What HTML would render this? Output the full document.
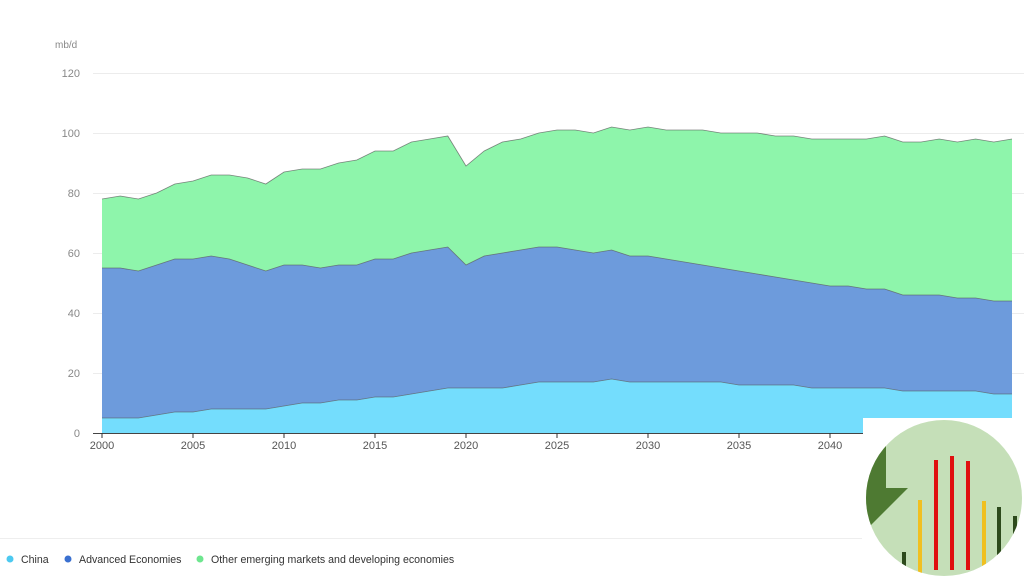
<!DOCTYPE html>
<html><head><meta charset="utf-8"><style>
html,body{margin:0;padding:0;background:#fff;width:1024px;height:578px;overflow:hidden}
svg{display:block;font-family:"Liberation Sans",sans-serif}
</style></head><body>
<svg id="s" width="1024" height="578" xmlns="http://www.w3.org/2000/svg">
<g stroke="#ececec" stroke-width="1">
<line x1="93" x2="1024" y1="73.5" y2="73.5"/><line x1="93" x2="1024" y1="133.5" y2="133.5"/>
<line x1="93" x2="1024" y1="193.5" y2="193.5"/><line x1="93" x2="1024" y1="253.5" y2="253.5"/>
<line x1="93" x2="1024" y1="313.5" y2="313.5"/><line x1="93" x2="1024" y1="373.5" y2="373.5"/>
</g>
<g font-size="11" fill="#888" text-anchor="end">
<text x="80" y="77">120</text><text x="80" y="137">100</text><text x="80" y="197">80</text>
<text x="80" y="257">60</text><text x="80" y="317">40</text><text x="80" y="377">20</text><text x="80" y="437">0</text>
</g>
<text x="55" y="48" font-size="10" fill="#888">mb/d</text>
<g id="areas"></g>
<line x1="93" x2="1024" y1="433.5" y2="433.5" stroke="#444" stroke-width="1"/>
<g id="ticks" font-size="11" fill="#555" text-anchor="middle"></g>
<line x1="0" x2="862" y1="538.5" y2="538.5" stroke="#eee"/>
<g font-size="10.6" fill="#333">
<circle cx="10" cy="559" r="3.5" fill="#4cc9f0"/><text x="21" y="563">China</text>
<circle cx="68" cy="559" r="3.5" fill="#3a70d0"/><text x="79" y="563">Advanced Economies</text>
<circle cx="200" cy="559" r="3.5" fill="#6ee68f"/><text x="211" y="563">Other emerging markets and developing economies</text>
</g>
<rect x="863" y="418" width="161" height="160" fill="#fff"/>
<clipPath id="c"><circle cx="944" cy="498" r="78"/></clipPath>
<circle cx="944" cy="498" r="78" fill="#c5dfb8"/>
<g clip-path="url(#c)">
<polygon points="866,440 886,440 886,488 908,488 866,530" fill="#4e7a32"/>
<rect x="902" y="552" width="4" height="26" fill="#2d4a1c"/>
<rect x="918" y="500" width="4" height="78" fill="#f0c020"/>
<rect x="934" y="460" width="4" height="110" fill="#e01010"/>
<rect x="950" y="456" width="4" height="114" fill="#e01010"/>
<rect x="966" y="461" width="4" height="109" fill="#e01010"/>
<rect x="982" y="501" width="4" height="77" fill="#f0c020"/>
<rect x="997" y="507" width="4" height="71" fill="#2d4a1c"/>
<rect x="1013" y="516" width="4" height="62" fill="#2d4a1c"/>
</g>
</svg>
<script>
var ch=[5,5,5,6,7,7,8,8,8,8,9,10,10,11,11,12,12,13,14,15,15,15,15,16,17,17,17,17,18,17,17,17,17,17,17,16,16,16,16,15,15,15,15,15,14,14,14,14,14,13,13];
var ad=[55,55,54,56,58,58,59,58,56,54,56,56,55,56,56,58,58,60,61,62,56,59,60,61,62,62,61,60,61,59,59,58,57,56,55,54,53,52,51,50,49,49,48,48,46,46,46,45,45,44,44];
var tt=[78,79,78,80,83,84,86,86,85,83,87,88,88,90,91,94,94,97,98,99,89,94,97,98,100,101,101,100,102,101,102,101,101,101,100,100,100,99,99,98,98,98,98,99,97,97,98,97,98,97,98];
function X(i){return 102+18.2*i}function Y(v){return 433-3*v}
function area(top,bot,fill){var p=[];for(var i=0;i<top.length;i++)p.push(X(i)+","+Y(top[i]));for(var i=bot.length-1;i>=0;i--)p.push(X(i)+","+Y(bot[i]));
return '<polygon points="'+p.join(" ")+'" fill="'+fill+'"/>'+'<polyline points="'+top.map(function(v,i){return X(i)+","+Y(v)}).join(" ")+'" fill="none" stroke="#555" stroke-width="0.8" stroke-opacity="0.7"/>';}
var z=ch.map(function(){return 0});
document.getElementById("areas").innerHTML=area(tt,ad,"#8ef5ab")+area(ad,ch,"#6d9bdc")+area(ch,z,"#74ddfd");
var t="";for(var y=0;y<=45;y+=5){var x=X(y);t+='<line x1="'+x+'" x2="'+x+'" y1="433" y2="438" stroke="#333"/><text x="'+x+'" y="449">'+(2000+y)+'</text>';}
document.getElementById("ticks").innerHTML=t;
</script>
</body></html>
